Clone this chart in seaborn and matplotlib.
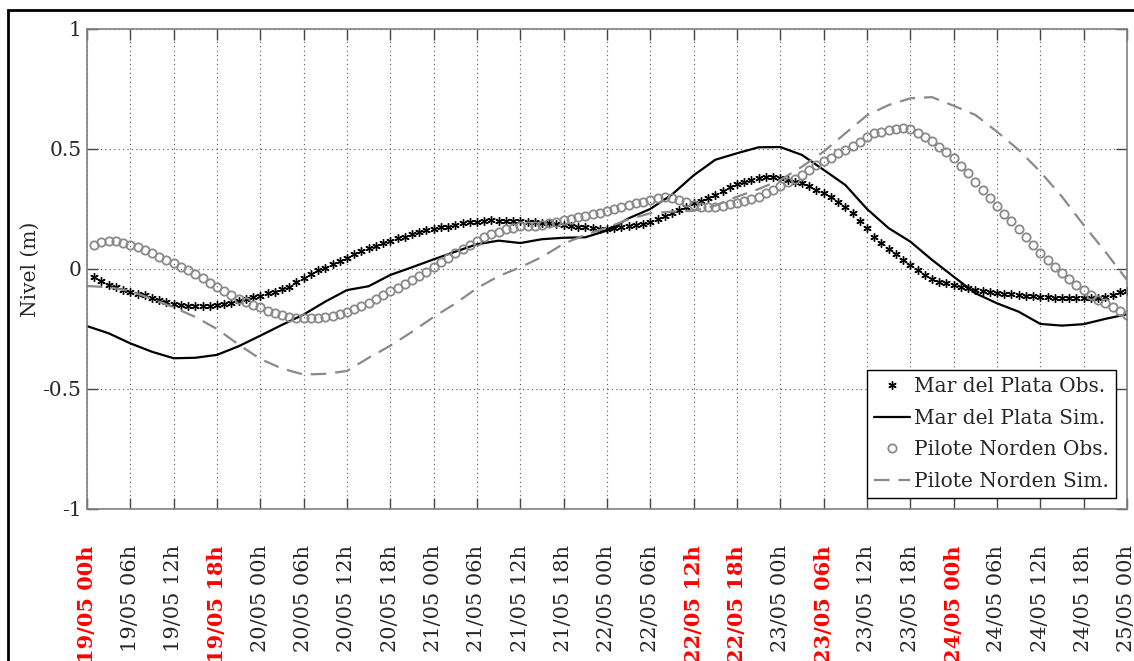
import numpy as np
import seaborn as sns
import matplotlib.pyplot as plt
from matplotlib.patches import Rectangle

# Eje temporal: 19/05 00h a 25/05 00h, cada 6 horas
tick_labels = ["19/05 00h", "19/05 06h", "19/05 12h", "19/05 18h", "20/05 00h", "20/05 06h",
               "20/05 12h", "20/05 18h", "21/05 00h", "21/05 06h", "21/05 12h", "21/05 18h",
               "22/05 00h", "22/05 06h", "22/05 12h", "22/05 18h", "23/05 00h", "23/05 06h",
               "23/05 12h", "23/05 18h", "24/05 00h", "24/05 06h", "24/05 12h", "24/05 18h",
               "25/05 00h"]
red_ticks = [0, 3, 14, 15, 17, 20]  # etiquetas destacadas en rojo
tick_hours = np.arange(0, 145, 6)

# Observaciones horarias (h = 1..144)
hours_obs = np.arange(1, 145)
mdp_obs = [-0.035, -0.05, -0.067, -0.076, -0.087, -0.098, -0.104, -0.11, -0.12, -0.129, -0.136, -0.144,
           -0.15, -0.153, -0.153, -0.153, -0.153, -0.15, -0.146, -0.14, -0.132, -0.126, -0.118, -0.111,
           -0.10, -0.094, -0.085, -0.074, -0.055, -0.039, -0.021, -0.006, 0.006, 0.02, 0.032, 0.044,
           0.061, 0.075, 0.086, 0.096, 0.107, 0.117, 0.128, 0.135, 0.145, 0.156, 0.162, 0.168,
           0.174, 0.176, 0.183, 0.19, 0.194, 0.197, 0.2, 0.203, 0.201, 0.2, 0.199, 0.199,
           0.197, 0.194, 0.193, 0.19, 0.188, 0.183, 0.18, 0.176, 0.174, 0.17, 0.168, 0.166,
           0.172, 0.176, 0.18, 0.183, 0.189, 0.197, 0.207, 0.221, 0.232, 0.246, 0.26, 0.274,
           0.283, 0.294, 0.308, 0.325, 0.343, 0.354, 0.364, 0.371, 0.378, 0.382, 0.382, 0.378,
           0.371, 0.364, 0.36, 0.345, 0.33, 0.315, 0.3, 0.28, 0.26, 0.232, 0.2, 0.17,
           0.135, 0.107, 0.083, 0.061, 0.038, 0.017, -0.004, -0.025, -0.042, -0.053, -0.06, -0.067,
           -0.074, -0.08, -0.088, -0.092, -0.097, -0.101, -0.104, -0.106, -0.108, -0.111, -0.114, -0.115,
           -0.117, -0.119, -0.122, -0.122, -0.122, -0.122, -0.122, -0.119, -0.115, -0.108, -0.097, -0.09]
pn_obs = [0.1, 0.114, 0.118, 0.118, 0.11, 0.1, 0.09, 0.079, 0.065, 0.051, 0.038, 0.024,
          0.01, -0.004, -0.021, -0.039, -0.06, -0.076, -0.09, -0.108, -0.125, -0.136, -0.15, -0.16,
          -0.175, -0.185, -0.19, -0.199, -0.203, -0.206, -0.206, -0.206, -0.201, -0.196, -0.189, -0.179,
          -0.168, -0.155, -0.14, -0.125, -0.107, -0.092, -0.078, -0.064, -0.048, -0.031, -0.012, 0.008,
          0.03, 0.047, 0.065, 0.082, 0.1, 0.118, 0.132, 0.145, 0.155, 0.165, 0.172, 0.178,
          0.179, 0.18, 0.183, 0.19, 0.197, 0.204, 0.21, 0.215, 0.221, 0.229, 0.235, 0.242,
          0.25, 0.26, 0.267, 0.274, 0.28, 0.288, 0.294, 0.3, 0.297, 0.288, 0.278, 0.267,
          0.26, 0.257, 0.26, 0.264, 0.27, 0.275, 0.283, 0.292, 0.301, 0.315, 0.329, 0.347,
          0.361, 0.375, 0.392, 0.413, 0.433, 0.45, 0.464, 0.482, 0.496, 0.514, 0.53, 0.55,
          0.565, 0.572, 0.579, 0.583, 0.586, 0.582, 0.568, 0.551, 0.533, 0.51, 0.489, 0.464,
          0.429, 0.399, 0.361, 0.329, 0.294, 0.263, 0.229, 0.2, 0.167, 0.132, 0.1, 0.065,
          0.038, 0.008, -0.018, -0.043, -0.067, -0.088, -0.108, -0.129, -0.143, -0.157, -0.175, -0.19]

# Simulaciones cada 3 horas (h = 0..144)
hours_sim = np.arange(0, 145, 3)
mdp_sim = [-0.238, -0.268, -0.31, -0.345, -0.372, -0.37, -0.358, -0.322, -0.278, -0.233, -0.19, -0.136,
           -0.088, -0.072, -0.025, 0.007, 0.04, 0.072, 0.103, 0.118, 0.108, 0.124, 0.13, 0.132,
           0.16, 0.211, 0.25, 0.31, 0.39, 0.455, 0.482, 0.507, 0.508, 0.475, 0.413, 0.35,
           0.25, 0.17, 0.114, 0.038, -0.032, -0.101, -0.143, -0.178, -0.229, -0.236, -0.23, -0.208,
           -0.189]
pn_sim = [-0.071, -0.076, -0.092, -0.125, -0.16, -0.2, -0.25, -0.315, -0.375, -0.415, -0.44, -0.437,
          -0.425, -0.37, -0.32, -0.262, -0.2, -0.144, -0.08, -0.03, 0.007, 0.05, 0.105, 0.142,
          0.172, 0.207, 0.232, 0.239, 0.242, 0.264, 0.301, 0.333, 0.371, 0.426, 0.489, 0.565,
          0.64, 0.683, 0.711, 0.716, 0.68, 0.642, 0.572, 0.496, 0.405, 0.301, 0.183, 0.072,
          -0.046]

sns.set_theme(style="white")
plt.rcParams["font.family"] = ["DejaVu Serif"]
plt.rcParams["axes.unicode_minus"] = False

fig = plt.figure(figsize=(11.34, 6.61), dpi=100)
ax = fig.add_axes([0.0767, 0.23, 0.9171, 0.7262])

sns.lineplot(x=hours_obs, y=mdp_obs, ax=ax, color="black", linestyle="none",
             marker=(6, 2, 0), markersize=6, markeredgecolor="black", markeredgewidth=1.0,
             label="Mar del Plata Obs.")
sns.lineplot(x=hours_sim, y=mdp_sim, ax=ax, color="black", linewidth=1.6,
             label="Mar del Plata Sim.")
sns.lineplot(x=hours_obs, y=pn_obs, ax=ax, color="#8a8a8a", linestyle="none",
             marker="o", markersize=6, markerfacecolor="none", markeredgecolor="#8a8a8a",
             markeredgewidth=1.3, label="Pilote Norden Obs.")
sns.lineplot(x=hours_sim, y=pn_sim, ax=ax, color="#8a8a8a", linewidth=1.6,
             dashes=False, linestyle=(0, (7, 4)), label="Pilote Norden Sim.")

ax.set_xlim(0, 144)
ax.set_ylim(-1, 1)
ax.set_xticks(tick_hours)
ax.set_xticklabels(tick_labels, rotation=90, fontsize=15)
for i, lab in enumerate(ax.get_xticklabels()):
    if i in red_ticks:
        lab.set_color("red")
        lab.set_fontweight("bold")
ax.set_yticks([-1, -0.5, 0, 0.5, 1])
ax.set_yticklabels(["-1", "-0.5", "0", "0.5", "1"], fontsize=14.5)
ax.set_ylabel("Nivel (m)", fontsize=14.5, labelpad=2)
ax.set_xlabel("")

ax.grid(True, color="#555555", linestyle=(0, (1, 3)), linewidth=0.8)
ax.tick_params(axis="both", direction="in", length=8, width=1, color="#444444",
               top=True, right=True, bottom=True, left=True)
ax.tick_params(axis="x", pad=26)
ax.tick_params(axis="y", pad=4)
for s in ax.spines.values():
    s.set_color("#808080")
    s.set_linewidth(1.2)

ax.legend(loc="lower right", bbox_to_anchor=(0.989, 0.023), borderaxespad=0,
          fancybox=False, edgecolor="black", framealpha=1, fontsize=14.5,
          handlelength=1.75, handletextpad=0.2, borderpad=0.35, labelspacing=0.62)
ax.get_legend().get_frame().set_linewidth(1.0)

# Marco negro exterior de la figura
fig.add_artist(Rectangle((8 / 1134, -0.5), 2, 0.5 + 1 - 10 / 661, transform=fig.transFigure,
                         fill=False, edgecolor="black", linewidth=2))

fig.savefig("out.png", dpi=100)
